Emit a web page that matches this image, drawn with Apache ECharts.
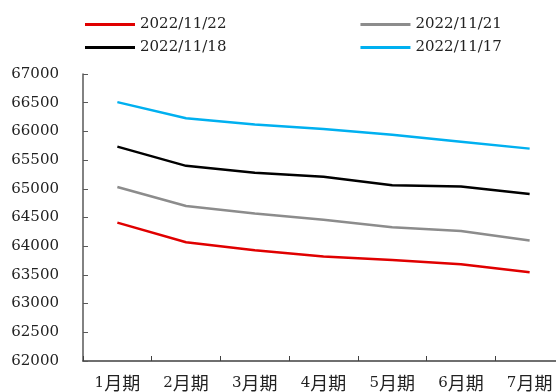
<!DOCTYPE html>
<html>
<head>
<meta charset="utf-8">
<script src="https://cdn.jsdelivr.net/npm/echarts@6/dist/echarts.min.js"></script>
<style>
  html, body { margin: 0; padding: 0; background: #fff; }
  #chart { width: 556px; height: 392px; }
</style>
</head>
<body>
<div id="chart"></div>
<script>
// Monthly contract periods
const categories = ['1月期', '2月期', '3月期', '4月期', '5月期', '6月期', '7月期'];

// Settlement curves by quote date
const s1122 = [64410, 64070, 63930, 63820, 63760, 63685, 63545];
const s1121 = [65030, 64700, 64570, 64460, 64330, 64265, 64100];
const s1118 = [65735, 65400, 65280, 65210, 65060, 65040, 64910];
const s1117 = [66510, 66230, 66120, 66040, 65940, 65820, 65700];

const seriesNames = ['2022/11/22', '2022/11/21', '2022/11/18', '2022/11/17'];
const seriesData = [s1122, s1121, s1118, s1117];
const seriesColors = ['#e00000', '#8c8c8c', '#000000', '#00b0f0'];

// Y axis range
const yMin = 62000;
const yMax = 67000;
const yStep = 500;

const serif = '"DejaVu Serif", "Noto Sans CJK SC", serif';

const chart = echarts.init(document.getElementById('chart'), null, { renderer: 'canvas' });

const legendCommon = {
  itemWidth: 50,
  itemHeight: 14,
  itemGap: 134,
  icon: 'path://M0,6 L50,6 L50,9 L0,9 Z',
  textStyle: { fontFamily: serif, fontSize: 15, color: '#222', padding: [0, 0, 0, 0] },
  orient: 'horizontal'
};

chart.setOption({
  animation: false,
  backgroundColor: '#ffffff',
  legend: [
    Object.assign({}, legendCommon, { left: 80, top: 12, data: [seriesNames[0], seriesNames[1]] }),
    Object.assign({}, legendCommon, { left: 80, top: 35, data: [seriesNames[2], seriesNames[3]] })
  ],
  // the plot area runs a little past the right edge of the canvas
  grid: { left: 83, width: 481, top: 74, height: 287, containLabel: false, outerBoundsMode: 'none' },
  xAxis: {
    type: 'category',
    data: categories,
    boundaryGap: true,
    axisLine: { lineStyle: { color: '#404040', width: 1.5 } },
    axisTick: { show: true, inside: true, length: 5, lineStyle: { color: '#404040' } },
    axisLabel: {
      margin: 13,
      interval: 0,
      formatter: function (v) {
        const m = v.match(/^(\d+)(.*)$/);
        return '{d|' + m[1] + '}{c|' + m[2] + '}';
      },
      rich: {
        d: { fontFamily: '"DejaVu Serif", serif', fontSize: 15, color: '#222' },
        c: { fontFamily: '"Noto Sans CJK SC", sans-serif', fontSize: 18, color: '#222' }
      }
    }
  },
  yAxis: {
    type: 'value',
    min: yMin,
    max: yMax,
    interval: yStep,
    splitLine: { show: false },
    axisLine: { show: true, lineStyle: { color: '#595959', width: 1.5 } },
    axisTick: { show: true, inside: true, length: 5, lineStyle: { color: '#595959' } },
    axisLabel: {
      margin: 24,
      fontFamily: serif,
      fontSize: 15,
      color: '#222',
      formatter: function (v) { return String(v); }
    }
  },
  series: seriesNames.map(function (name, i) {
    return {
      name: name,
      type: 'line',
      data: seriesData[i],
      symbol: 'none',
      smooth: false,
      lineStyle: { color: seriesColors[i], width: 2.5 },
      itemStyle: { color: seriesColors[i] },
      z: 10 - i
    };
  })
});
</script>
</body>
</html>
